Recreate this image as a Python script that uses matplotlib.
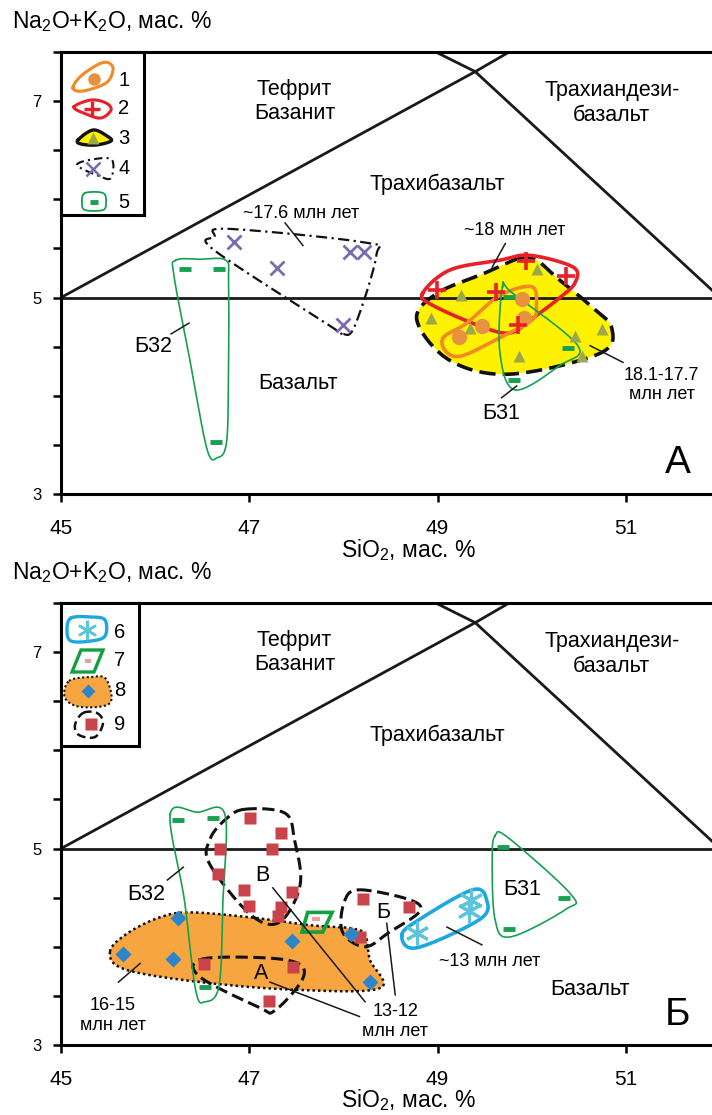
import numpy as np
import matplotlib
matplotlib.use('Agg')
import matplotlib.pyplot as plt

plt.rcParams['font.family'] = ['Liberation Sans', 'DejaVu Sans']
plt.rcParams['mathtext.fontset'] = 'custom'
plt.rcParams['mathtext.rm'] = 'Liberation Sans'
plt.rcParams['mathtext.it'] = 'Liberation Sans:italic'
plt.rcParams['mathtext.bf'] = 'Liberation Sans:bold'

# ---------------- TAS field boundaries ----------------
bnd_h_x, bnd_h_y = [45, 52], [5, 5]
bnd_tb_x, bnd_tb_y = [45, 49.4, 53], [5, 7.3, 9.3]
bnd_bta_x, bnd_bta_y = [52, 49.4, 45], [5, 7.3, 9.4]

x_ticks = [45, 47, 49, 51]
y_ticks = [3, 5, 7]

# ---------------- Panel A data ----------------
g1_x = [49.90, 49.92, 49.47, 49.23]
g1_y = [4.99, 4.79, 4.71, 4.60]
g2_x = [49.94, 50.36, 48.99, 49.62, 49.85]
g2_y = [5.37, 5.22, 5.08, 5.06, 4.72]
g3_x = [50.06, 49.25, 48.93, 49.34, 50.75, 50.46, 50.53, 49.86]
g3_y = [5.29, 5.03, 4.79, 4.69, 4.68, 4.61, 4.41, 4.40]
g4_x = [46.84, 47.29, 48.07, 48.22, 48.00]
g4_y = [5.57, 5.30, 5.46, 5.46, 4.72]
g5a_x = [46.32, 46.68, 46.65, 50.39, 49.81, 49.76]
g5a_y = [5.29, 5.29, 3.53, 4.49, 4.16, 5.01]

# envelopes, panel A
env1_x = [49.06, 49.31, 49.66, 50.00, 50.05, 50.00, 49.66, 49.27, 49.10]
env1_y = [4.59, 4.74, 5.02, 5.11, 4.92, 4.77, 4.59, 4.41, 4.44]
env2_x = [48.84, 49.13, 49.66, 49.98, 50.44, 50.46, 50.30, 50.01, 49.77, 49.45, 48.95]
env2_y = [5.04, 5.28, 5.38, 5.43, 5.31, 5.15, 5.00, 4.79, 4.64, 4.71, 4.92]
env3_x = [49.87, 50.05, 50.27, 50.62, 50.85, 50.72, 49.77, 49.13, 48.78, 48.99, 49.48]
env3_y = [5.40, 5.38, 5.20, 4.92, 4.69, 4.43, 4.22, 4.36, 4.77, 5.04, 5.24]
env4_x = [46.63, 46.77, 48.23, 48.35, 48.12, 47.99, 47.86, 46.63]
env4_y = [5.62, 5.70, 5.56, 5.43, 4.71, 4.63, 4.71, 5.48]
env5a1_x = [49.69, 49.79, 50.49, 50.30, 49.82, 49.66]
env5a1_y = [5.11, 5.05, 4.51, 4.31, 4.06, 4.46]
env5a2_x = [46.22, 46.48, 46.75, 46.78, 46.78, 46.76, 46.66, 46.55, 46.37, 46.20]
env5a2_y = [5.38, 5.39, 5.38, 5.17, 4.36, 3.54, 3.37, 3.46, 4.36, 5.22]

# ---------------- Panel B data ----------------
g5b_x = [46.24, 46.61, 46.53, 49.69, 50.34, 49.76]
g5b_y = [5.29, 5.31, 3.59, 5.02, 4.50, 4.18]
g6_x = [48.78, 49.36, 49.33]
g6_y = [4.14, 4.48, 4.36]
g7_x = [47.71]
g7_y = [4.28]
g8_x = [46.24, 45.66, 46.19, 47.45, 48.08, 48.28]
g8_y = [4.29, 3.93, 3.88, 4.06, 4.13, 3.64]
g9_x = [47.01, 47.34, 46.69, 47.24, 46.67, 46.94, 47.45, 47.00, 47.34, 47.30,
        46.52, 47.46, 47.21, 48.21, 48.70, 48.18]
g9_y = [5.31, 5.16, 5.00, 5.00, 4.74, 4.58, 4.56, 4.42, 4.41, 4.31,
        3.82, 3.79, 3.45, 4.49, 4.40, 4.10]

env6_x = [48.62, 48.78, 49.45, 49.52, 49.37, 48.81]
env6_y = [4.12, 3.99, 4.28, 4.48, 4.58, 4.28]
env7_x = [47.62, 47.88, 47.78, 47.56]
env7_y = [4.35, 4.35, 4.15, 4.15]
env8_x = [45.52, 45.71, 46.05, 46.37, 47.01, 47.64, 48.07, 48.23, 48.28, 48.39, 47.54, 46.48, 45.68]
env8_y = [3.95, 4.14, 4.30, 4.35, 4.30, 4.22, 4.19, 4.12, 3.87, 3.58, 3.56, 3.64, 3.77]
env9v_x = [46.95, 47.38, 47.48, 47.54, 47.32, 47.01, 46.58, 46.58, 46.74]
env9v_y = [5.40, 5.36, 5.09, 4.63, 4.25, 4.33, 4.84, 5.09, 5.29]
env9a_x = [46.48, 47.11, 47.52, 47.56, 47.27, 47.11, 46.48]
env9a_y = [3.87, 3.89, 3.83, 3.66, 3.35, 3.38, 3.69]
env9b_x = [48.17, 48.70, 48.81, 48.49, 48.23, 47.99, 48.01]
env9b_y = [4.58, 4.48, 4.36, 4.15, 4.00, 4.15, 4.46]
env5b1_x = [49.61, 49.75, 50.42, 50.36, 49.77, 49.61, 49.58]
env5b1_y = [5.13, 5.11, 4.53, 4.38, 4.10, 4.28, 4.89]
env5b2_x = [46.16, 46.45, 46.74, 46.72, 46.68, 46.53, 46.43, 46.31]
env5b2_y = [5.35, 5.37, 5.35, 4.48, 3.61, 3.44, 3.56, 4.48]

# ---------------- colours ----------------
C_ORANGE = '#F08A24'
C_ORANGE_PT = '#E8913E'
C_RED = '#E8202A'
C_YELLOW = '#FFF200'
C_OLIVE = '#9DA84A'
C_PURPLE = '#7B6BB0'
C_GREEN = '#17A050'
C_CYAN = '#1EA8E0'
C_CYAN_PT = '#5CC4DC'
C_PINK = '#E8A0A0'
C_ORFILL = '#F7A541'
C_BLUE = '#2C85C8'
C_SQ = '#C8444A'


def smooth(xs, ys, n=24):
    pts = np.column_stack([xs, ys]).astype(float)
    P = len(pts)
    t = np.linspace(0, 1, n, endpoint=False)[:, None]
    segs = []
    for i in range(P):
        p0, p1, p2, p3 = pts[(i - 1) % P], pts[i], pts[(i + 1) % P], pts[(i + 2) % P]
        segs.append(0.5 * (2 * p1 + (-p0 + p2) * t + (2 * p0 - 5 * p1 + 4 * p2 - p3) * t ** 2
                           + (-p0 + 3 * p1 - 3 * p2 + p3) * t ** 3))
    s = np.vstack(segs)
    return np.vstack([s, s[:1]])


def outline(ax, xs, ys, fill=None, **kw):
    s = smooth(xs, ys)
    if fill is not None:
        ax.fill(s[:, 0], s[:, 1], color=fill, lw=0, zorder=1)
    ax.plot(s[:, 0], s[:, 1], **kw)


W, H = 712, 1115
fig = plt.figure(figsize=(W / 100, H / 100), dpi=100)


def add_axes_px(l, t, r, b):
    return fig.add_axes([l / W, 1 - b / H, (r - l) / W, (b - t) / H])


def setup(ax):
    ax.set_xlim(45, 52)
    ax.set_ylim(3, 7.5)
    for sp in ax.spines.values():
        sp.set_linewidth(2.2)
    ax.set_xticks(x_ticks)
    ax.set_yticks(y_ticks)
    ax.set_yticks(np.arange(3, 7.51, 0.5), minor=True)
    ax.tick_params(axis='both', which='both', direction='out', width=1.8, length=6)
    ax.tick_params(axis='x', which='minor', length=0)
    ax.tick_params(axis='x', labelsize=15, pad=12)
    ax.tick_params(axis='y', labelsize=12, pad=8)
    for lab in ax.get_xticklabels() + ax.get_yticklabels():
        lab.set_family(['Liberation Sans Narrow', 'Liberation Sans'])
    ax.plot(bnd_h_x, bnd_h_y, color='#1a1a1a', lw=2, zorder=2)
    ax.plot(bnd_tb_x, bnd_tb_y, color='#1a1a1a', lw=2, zorder=2)
    ax.plot(bnd_bta_x, bnd_bta_y, color='#1a1a1a', lw=2, zorder=2)
    ax.text(47.48, 7.0, 'Тефрит\nБазанит', ha='center', va='center', fontsize=15.5, linespacing=1.2)
    ax.text(50.85, 6.98, 'Трахиандези-\nбазальт', ha='center', va='center', fontsize=15.5, linespacing=1.3)
    ax.text(49.0, 6.15, 'Трахибазальт', ha='center', va='center', fontsize=15.5)


def leader(ax, x1, y1, x2, y2):
    ax.plot([x1, x2], [y1, y2], color='#1a1a1a', lw=1.1, zorder=6)


# ================= Panel A =================
axA = add_axes_px(61, 52, 720, 494)
setup(axA)
axA.text(47.52, 4.13, 'Базальт', ha='center', va='center', fontsize=15.5)
axA.text(51.55, 3.32, 'А', ha='center', va='center', fontsize=28)

outline(axA, env3_x, env3_y, fill=C_YELLOW, color='#111111', lw=2.6,
        ls=(0, (4.5, 2)), zorder=3)
outline(axA, env4_x, env4_y, color='#111111', lw=1.6, ls=(0, (5, 2, 1, 2)), zorder=3)
outline(axA, env5a2_x, env5a2_y, color=C_GREEN, lw=1.2, zorder=3)
outline(axA, env2_x, env2_y, color=C_RED, lw=2.6, zorder=3)
outline(axA, env1_x, env1_y, color=C_ORANGE, lw=2.6, zorder=3)
outline(axA, env5a1_x, env5a1_y, color=C_GREEN, lw=1.2, zorder=4)

axA.plot(g3_x, g3_y, ls='none', marker='^', ms=9, color=C_OLIVE, mec='none', zorder=5)
axA.plot(g1_x, g1_y, ls='none', marker='o', ms=11, color=C_ORANGE_PT, mec='none', zorder=5)
axA.plot(g2_x, g2_y, ls='none', marker='+', ms=13, mew=2.6, color=C_RED, zorder=5)
axA.plot(g4_x, g4_y, ls='none', marker='x', ms=10, mew=2, color=C_PURPLE, zorder=5)
axA.plot(g5a_x, g5a_y, ls='none', marker='_', ms=8, mew=3.5, color=C_GREEN, zorder=5)

axA.text(47.55, 5.86, '~17.6 млн лет', ha='center', va='center', fontsize=13)
leader(axA, 47.38, 5.76, 47.57, 5.53)
axA.text(49.82, 5.68, '~18 млн лет', ha='center', va='center', fontsize=13)
leader(axA, 49.72, 5.55, 49.58, 5.31)
axA.text(51.38, 4.11, '18.1-17.7\nмлн лет', ha='center', va='center', fontsize=13, linespacing=1.2)
leader(axA, 50.62, 4.51, 50.97, 4.34)
axA.text(49.68, 3.82, 'Б31', ha='center', va='center', fontsize=15.5)
leader(axA, 49.68, 3.98, 49.84, 4.10)
axA.text(45.98, 4.50, 'Б32', ha='center', va='center', fontsize=15.5)
leader(axA, 46.17, 4.63, 46.36, 4.74)

# ================= Panel B =================
axB = add_axes_px(61, 603, 720, 1045)
setup(axB)
axB.text(50.62, 3.56, 'Базальт', ha='center', va='center', fontsize=15.5)
axB.text(51.55, 3.31, 'Б', ha='center', va='center', fontsize=28)

outline(axB, env8_x, env8_y, fill=C_ORFILL, color='#111111', lw=1.8, ls=(0, (1, 1.2)), zorder=3)
outline(axB, env9v_x, env9v_y, color='#111111', lw=2.2, ls=(0, (4, 1.8)), zorder=3)
outline(axB, env9a_x, env9a_y, color='#111111', lw=2.2, ls=(0, (4, 1.8)), zorder=3)
outline(axB, env9b_x, env9b_y, color='#111111', lw=2.2, ls=(0, (4, 1.8)), zorder=3)
outline(axB, env5b2_x, env5b2_y, color=C_GREEN, lw=1.2, zorder=4)
outline(axB, env5b1_x, env5b1_y, color=C_GREEN, lw=1.2, zorder=4)
outline(axB, env6_x, env6_y, color=C_CYAN, lw=2.6, zorder=4)
axB.fill(env7_x + env7_x[:1], env7_y + env7_y[:1], facecolor='none', edgecolor='#10A040',
         lw=2.6, zorder=4)

axB.plot(g9_x, g9_y, ls='none', marker='s', ms=9, color=C_SQ, mec='none', zorder=5)
axB.plot(g8_x, g8_y, ls='none', marker='D', ms=8.5, color=C_BLUE, mec='none', zorder=5)
axB.plot(g6_x, g6_y, ls='none', marker=(6, 2, 0), ms=17, mew=2.2, color=C_CYAN_PT, zorder=5)
axB.plot(g7_x, g7_y, ls='none', marker='_', ms=6, mew=3, color=C_PINK, zorder=5)
axB.plot(g5b_x, g5b_y, ls='none', marker='_', ms=8, mew=3.5, color=C_GREEN, zorder=5)

axB.text(45.91, 4.53, 'Б32', ha='center', va='center', fontsize=15.5)
leader(axB, 46.13, 4.68, 46.30, 4.81)
axB.text(47.14, 4.73, 'В', ha='center', va='center', fontsize=15.5)
leader(axB, 47.25, 4.60, 48.23, 3.44)
axB.text(47.13, 3.73, 'А', ha='center', va='center', fontsize=15.5)
leader(axB, 47.22, 3.64, 48.17, 3.29)
axB.text(48.42, 4.35, 'Б', ha='center', va='center', fontsize=15.5)
leader(axB, 48.46, 4.24, 48.55, 3.51)
axB.text(49.55, 3.85, '~13 млн лет', ha='center', va='center', fontsize=13)
leader(axB, 49.10, 4.20, 49.47, 4.02)
axB.text(49.90, 4.58, 'Б31', ha='center', va='center', fontsize=15.5)
axB.text(45.55, 3.30, '16-15\nмлн лет', ha='center', va='center', fontsize=13, linespacing=1.2)
leader(axB, 45.61, 3.64, 45.84, 3.83)
axB.text(48.55, 3.24, '13-12\nмлн лет', ha='center', va='center', fontsize=13, linespacing=1.2)

# ---------------- axis labels ----------------
ylab = 'Na$_2$O+K$_2$O, мас. %'
xlab = 'SiO$_2$, мас. %'
fig.text(12 / W, 1 - 22 / H, ylab, ha='left', va='center', fontsize=16.5)
fig.text(12 / W, 1 - 573 / H, ylab, ha='left', va='center', fontsize=16.5)
fig.text(408 / W, 1 - 550 / H, xlab, ha='center', va='center', fontsize=16.5)
fig.text(408 / W, 1 - 1100 / H, xlab, ha='center', va='center', fontsize=16.5)


# ---------------- legends ----------------
def legend_axes(l, t, r, b):
    lx = add_axes_px(l, t, r, b)
    lx.set_xlim(0, r - l)
    lx.set_ylim(b - t, 0)
    lx.set_xticks([])
    lx.set_yticks([])
    for sp in lx.spines.values():
        sp.set_linewidth(2.2)
    lx.set_zorder(10)
    return lx


def lshape(lx, xs, ys, fill=None, **kw):
    s = smooth(xs, ys, n=16)
    if fill is not None:
        lx.fill(s[:, 0], s[:, 1], color=fill, lw=0, zorder=1)
    lx.plot(s[:, 0], s[:, 1], **kw)


LA = legend_axes(61, 52, 144, 215)
lshape(LA, [12, 22, 45, 52, 48, 38, 20], [36, 39, 31, 18, 11, 12, 24], color=C_ORANGE, lw=2.2, zorder=2)
LA.plot([33], [27], marker='o', ms=9, color=C_ORANGE_PT, mec='none', zorder=3)
lshape(LA, [13, 30, 45, 50, 40, 25], [55, 48, 51, 58, 66, 62], color=C_RED, lw=2.2, zorder=2)
LA.plot([31], [57], marker='+', ms=11, mew=2.4, color=C_RED, zorder=3)
lshape(LA, [17, 32, 46, 50, 35, 20], [88, 78, 84, 89, 93, 92], fill=C_YELLOW, color='#111111', lw=2.4, zorder=2)
LA.plot([32], [86], marker='^', ms=8, color=C_OLIVE, mec='none', zorder=3)
lshape(LA, [16, 34, 51, 50, 38], [113, 107, 108, 126, 124], color='#111111', lw=1.5,
       ls=(0, (4, 2, 1, 2)), zorder=2)
LA.plot([32], [117], marker='x', ms=10, mew=1.8, color=C_PURPLE, zorder=3)
lshape(LA, [24, 42, 45, 42, 24, 21], [141, 141, 150, 158, 158, 150], color=C_GREEN, lw=1.3, zorder=2)
LA.plot([33], [150], marker='_', ms=6, mew=3.5, color=C_GREEN, zorder=3)
for i, yy in enumerate([29, 57, 86, 117, 150]):
    LA.text(63, yy, str(i + 1), ha='center', va='center', fontsize=14.5)

LB = legend_axes(61, 603, 139, 746)
lshape(LB, [10, 30, 44, 44, 30, 10, 6], [15, 14, 17, 33, 38, 38, 27], color=C_CYAN, lw=2.4, zorder=2)
LB.plot([26], [27], marker=(6, 2, 0), ms=14, mew=1.8, color=C_CYAN_PT, zorder=3)
LB.fill([20, 42, 33, 11, 20], [47, 47, 69, 69, 47], facecolor='none', edgecolor='#10A040', lw=2.4, zorder=2)
LB.plot([27], [58], marker='_', ms=5, mew=3, color=C_PINK, zorder=3)
lshape(LB, [8, 30, 45, 49, 20, 4], [78, 74, 76, 100, 104, 95], fill=C_ORFILL, color='#111111', lw=1.5,
       ls=(0, (1, 1.2)), zorder=2)
LB.plot([27], [88], marker='D', ms=7.5, color=C_BLUE, mec='none', zorder=3)
lshape(LB, [22, 36, 42, 34, 18, 14], [110, 110, 120, 134, 132, 122], color='#111111', lw=1.8,
       ls=(0, (3.5, 1.8)), zorder=2)
LB.plot([30], [121], marker='s', ms=8.5, color=C_SQ, mec='none', zorder=3)
for i, yy in enumerate([30, 58, 88, 121]):
    LB.text(59, yy, str(i + 6), ha='center', va='center', fontsize=14.5)

fig.savefig('out.png', dpi=100)
